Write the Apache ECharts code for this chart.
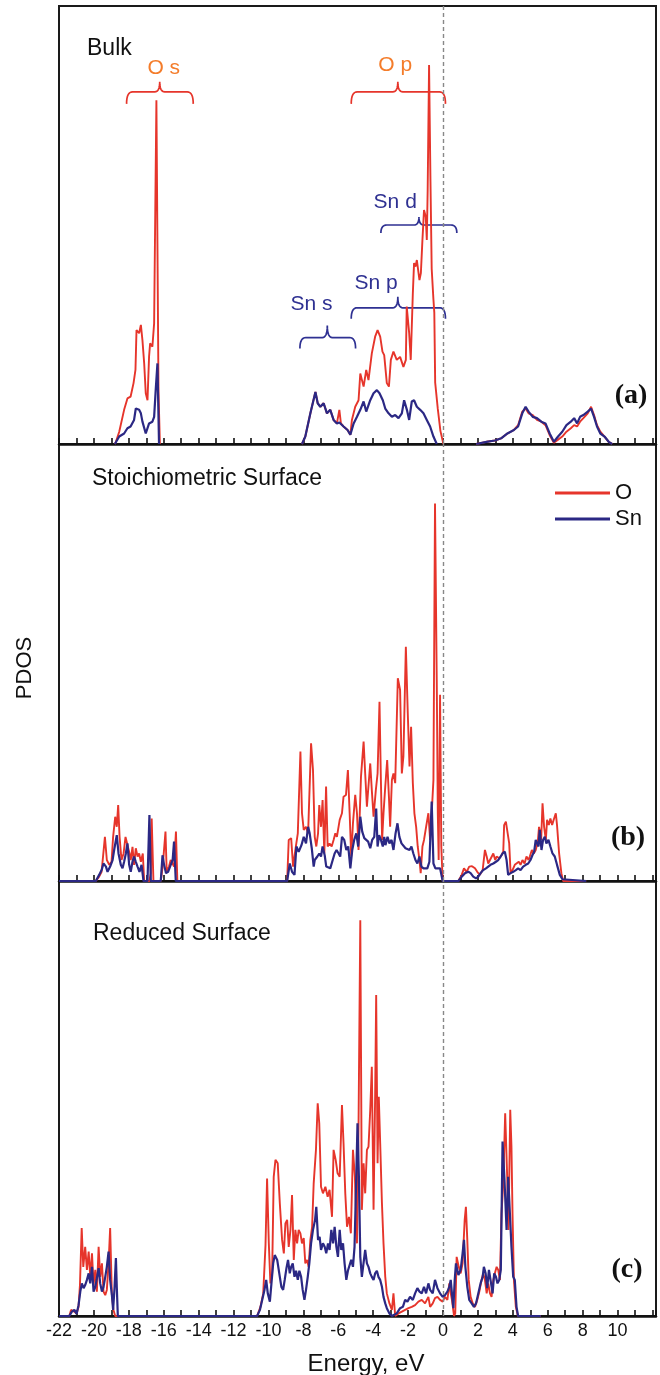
<!DOCTYPE html>
<html>
<head>
<meta charset="utf-8">
<script src="https://cdn.jsdelivr.net/npm/echarts@6.0.0/dist/echarts.min.js"></script>
<style>
html, body { margin: 0; padding: 0; background: #fff; }
#main { width: 660px; height: 1375px; }
</style>
</head>
<body>
<div id="main"></div>
<script>
// x = energy (eV), y = PDOS in arbitrary units (0..100 = full panel height)
const xTickLabels = [-22, -20, -18, -16, -14, -12, -10, -8, -6, -4, -2, 0, 2, 4, 6, 8, 10]
const panelTitles = ['Bulk', 'Stoichiometric Surface', 'Reduced Surface']
const panelTags = ['(a)', '(b)', '(c)']

// (a) bulk
const bulkO = [
  [-18.8, 0], [-18.74, 0.5], [-18.55, 2.8], [-18.27, 7.8], [-18.08, 10.4], [-17.9, 10.8], [-17.73, 13.9],
  [-17.62, 16.9], [-17.56, 26], [-17.41, 25.3], [-17.31, 27.2], [-17.22, 23.7], [-17.12, 18.4], [-17.03, 11.6],
  [-16.93, 10], [-16.84, 20], [-16.78, 23], [-16.65, 22.2], [-16.55, 27.6], [-16.42, 78.5], [-16.3, 12], [-16.22, 0],
  [-12, null],
  [-8.08, 0], [-7.89, 1.7], [-7.6, 7.0], [-7.31, 11.9], [-7.18, 9.3], [-7.03, 8.5], [-6.84, 9.3], [-6.65, 7.0],
  [-6.46, 7.8], [-6.27, 5.5], [-6.08, 4.7], [-5.94, 7.8], [-5.85, 4.7], [-5.7, 4.0], [-5.47, 3.2], [-5.31, 2.1],
  [-5.22, 5.5], [-5.03, 8.5], [-4.84, 10], [-4.74, 16.1], [-4.55, 13.1], [-4.4, 16.9], [-4.27, 14.6], [-4.08, 20.7],
  [-3.89, 24.5], [-3.75, 26], [-3.6, 24.5], [-3.47, 21.1], [-3.37, 20.3], [-3.22, 13.9], [-3.1, 13.1], [-2.99, 19.2],
  [-2.84, 21.1], [-2.65, 19.2], [-2.46, 19.9], [-2.27, 17.6], [-2.13, 19.2], [-2.08, 31.4], [-1.94, 25.3], [-1.85, 19.2],
  [-1.73, 34.4], [-1.66, 41.3], [-1.58, 40.5], [-1.5, 42], [-1.35, 37.4], [-1.27, 39], [-1.18, 46.6], [-1.09, 53.4],
  [-0.99, 51.9], [-0.93, 46.6], [-0.88, 58], [-0.8, 86.5], [-0.72, 60], [-0.65, 40], [-0.55, 33], [-0.5, 30],
  [-0.45, 14], [-0.3, 8], [-0.15, 3], [0.02, 0],
  [1, null],
  [1.9, 0], [2.0, 0.2], [2.49, 0.5], [2.97, 0.8], [3.33, 1.3], [3.69, 2.4], [4.06, 3.2], [4.3, 4.3], [4.54, 7.4],
  [4.73, 8.1], [4.9, 7.0], [5.14, 6.6], [5.38, 5.5], [5.63, 5.1], [5.87, 4.3], [6.11, 2.0], [6.35, 0.3], [6.59, 1.0],
  [6.83, 1.7], [7.07, 2.8], [7.32, 3.6], [7.51, 4.3], [7.68, 4.0], [7.85, 5.1], [8.04, 5.9], [8.29, 7.0], [8.48, 8.5],
  [8.65, 6.6], [8.82, 4.3], [9.01, 2.8], [9.25, 1.7], [9.49, 0.5], [9.69, 0]
]
const bulkSn = [
  [-18.8, 0], [-18.74, 0.3], [-18.55, 1.7], [-18.27, 2.4], [-18.08, 3.6], [-17.9, 4], [-17.7, 5.5], [-17.6, 8.1],
  [-17.41, 7.8], [-17.31, 7], [-17.22, 5.1], [-17.03, 2.4], [-16.93, 2.8], [-16.84, 4.7], [-16.65, 5.1], [-16.55, 6.2],
  [-16.46, 12.3], [-16.36, 18.4], [-16.3, 18.4], [-16.27, 0],
  [-12, null],
  [-8.08, 0], [-7.89, 1.7], [-7.6, 7.0], [-7.31, 11.9], [-7.18, 9.3], [-7.03, 8.5], [-6.84, 9.3], [-6.65, 7.0],
  [-6.46, 7.8], [-6.27, 5.5], [-6.08, 4.7], [-5.94, 4.9], [-5.85, 4.7], [-5.7, 4.0], [-5.47, 3.2], [-5.31, 2.1],
  [-5.12, 4.7], [-4.93, 6.2], [-4.74, 7.8], [-4.55, 9.7], [-4.4, 7.4], [-4.17, 10], [-3.98, 11.6], [-3.79, 12.3],
  [-3.64, 11.6], [-3.45, 10], [-3.31, 8.1], [-3.12, 7.0], [-2.93, 6.2], [-2.74, 6.6], [-2.55, 5.9], [-2.36, 7.0],
  [-2.23, 10], [-2.07, 7.8], [-1.94, 5.5], [-1.79, 9.7], [-1.66, 10], [-1.5, 8.5], [-1.31, 7.8], [-1.12, 7.0],
  [-0.93, 5.5], [-0.74, 4.0], [-0.55, 1.7], [-0.36, 0],
  [1, null],
  [1.9, 0], [2.0, 0.2], [2.49, 0.5], [2.97, 0.8], [3.33, 1.3], [3.69, 2.4], [4.06, 3.2], [4.3, 4], [4.54, 7],
  [4.73, 8.5], [4.9, 7.4], [5.14, 6.2], [5.38, 5.9], [5.63, 5.1], [5.87, 4.7], [6.11, 2.4], [6.35, 0.5], [6.59, 1.7],
  [6.83, 2.8], [7.07, 4.3], [7.32, 5.1], [7.51, 5.9], [7.68, 4.7], [7.85, 6.2], [8.04, 6.6], [8.29, 7.4], [8.48, 8.1],
  [8.65, 6.2], [8.82, 4.0], [9.01, 2.4], [9.25, 1.7], [9.49, 0.5], [9.69, 0]
]

// (b) stoichiometric surface
const stoichO = [
  [-22, 0], [-19.89, 0], [-19.7, 1], [-19.56, 2.1], [-19.37, 10.1], [-19.26, 4.8], [-19.12, 3.7], [-18.99, 4.4],
  [-18.9, 10.1], [-18.78, 14.7], [-18.69, 12.4], [-18.61, 17.4], [-18.53, 10.1], [-18.42, 4.8], [-18.3, 6.3],
  [-18.19, 10.1], [-18.08, 10.5], [-17.96, 6.3], [-17.89, 4.8], [-17.79, 7.8], [-17.7, 3.7], [-17.6, 7.5],
  [-17.5, 5.6], [-17.41, 6.3], [-17.31, 4.4], [-17.2, 6.3], [-17.12, 0], [-16.82, 0], [-16.74, 1.8], [-16.69, 14.3],
  [-16.59, 0], [-16.17, 0], [-16.06, 3.3], [-15.9, 11.3], [-15.83, 2.1], [-15.7, 3.3], [-15.6, 4.8], [-15.41, 3.3],
  [-15.3, 11.3], [-15.22, 0],
  [-8.93, 0], [-8.84, 9.4], [-8.7, 9.8], [-8.59, 3.3], [-8.46, 7.1], [-8.32, 10.9], [-8.17, 29.6], [-8.08, 15.5],
  [-7.98, 11.7], [-7.85, 12.4], [-7.73, 10.9], [-7.56, 31.5], [-7.45, 25.4], [-7.35, 10.1], [-7.26, 7.9], [-7.16, 10.9],
  [-7.09, 17.4], [-6.99, 12.4], [-6.9, 18.5], [-6.8, 6.3], [-6.7, 21.6], [-6.61, 7.9], [-6.5, 8.6], [-6.38, 7.9],
  [-6.27, 9.4], [-6.17, 10.9], [-6.08, 10.1], [-5.92, 14], [-5.79, 15.5], [-5.7, 19.3], [-5.56, 19.7], [-5.45, 25.4],
  [-5.35, 15.5], [-5.26, 5.6], [-5.16, 13.2], [-5.03, 19.7], [-4.93, 15.5], [-4.84, 7.1], [-4.7, 23.9], [-4.55, 31.9],
  [-4.46, 24.6], [-4.36, 17], [-4.29, 20.8], [-4.17, 26.9], [-4.08, 20.8], [-3.98, 14.7], [-3.85, 20.8], [-3.75, 24.6],
  [-3.64, 41], [-3.56, 23.1], [-3.49, 9.4], [-3.41, 15.5], [-3.31, 21.6], [-3.2, 27.7], [-3.1, 19.3], [-3.03, 12.4],
  [-2.93, 23.1], [-2.84, 24.6], [-2.74, 22.4], [-2.59, 46.4], [-2.46, 43.7], [-2.36, 24.6], [-2.27, 28.5],
  [-2.13, 53.6], [-2.02, 38.4], [-1.92, 26.2], [-1.83, 35.3], [-1.73, 22.4], [-1.64, 15.5], [-1.54, 12.4],
  [-1.45, 7.9], [-1.35, 4.8], [-1.28, 1.8], [-1.18, 7.9], [-1.09, 9.4], [-0.97, 12.4], [-0.84, 15.5], [-0.74, 9.4],
  [-0.65, 15.5], [-0.55, 23.1], [-0.46, 86.4], [-0.36, 46], [-0.3, 15.5], [-0.25, 4.8], [-0.17, 42.6], [-0.1, 7.9],
  [-0.02, 0],
  [0.88, 0], [1.07, 1.4], [1.2, 2.9], [1.35, 2.1], [1.5, 3.3], [1.66, 3.4], [1.83, 2.9], [1.96, 2.1], [2.11, 1.4],
  [2.27, 2.5], [2.4, 7.1], [2.5, 5.6], [2.59, 4.0], [2.69, 4.8], [2.8, 5.2], [2.88, 6.3], [2.99, 4.8], [3.07, 5.6],
  [3.22, 5.2], [3.35, 5.9], [3.45, 6.7], [3.5, 12.8], [3.6, 13.6], [3.71, 13.2], [3.79, 8.6], [3.87, 1.8], [3.98, 2.5],
  [4.11, 3.7], [4.21, 3.3], [4.34, 4.4], [4.44, 3.7], [4.55, 4.8], [4.67, 4.0], [4.78, 5.6], [4.9, 4.8], [4.97, 5.6],
  [5.09, 7.1], [5.2, 6.3], [5.31, 7.1], [5.43, 9], [5.5, 12.4], [5.62, 9.4], [5.7, 17.8], [5.79, 12.4], [5.89, 9.4],
  [5.96, 14], [6.06, 12.8], [6.15, 14.3], [6.25, 12.8], [6.34, 14], [6.46, 15.5], [6.53, 12.8], [6.65, 6.3],
  [6.78, 1.8], [6.88, 0], [8.2, 0]
]
const stoichSn = [
  [-22, 0], [-19.89, 0], [-19.7, 1.4], [-19.56, 2.5], [-19.45, 4], [-19.31, 3.3], [-19.22, 2.1], [-19.07, 3.3],
  [-18.93, 4.8], [-18.84, 7.1], [-18.69, 10.5], [-18.59, 6.3], [-18.46, 3.7], [-18.36, 2.9], [-18.27, 4.4],
  [-18.17, 6.3], [-18.08, 8.6], [-17.98, 3.7], [-17.89, 2.1], [-17.79, 4.4], [-17.7, 5.6], [-17.6, 4.4], [-17.5, 3.3],
  [-17.39, 2.1], [-17.27, 3.7], [-17.16, 0], [-16.93, 0], [-16.82, 15.1], [-16.74, 0], [-16.17, 0], [-16.07, 5.9],
  [-15.98, 3.7], [-15.87, 1.8], [-15.75, 2.1], [-15.6, 3.7], [-15.49, 4.8], [-15.41, 9], [-15.31, 0],
  [-8.93, 0], [-8.78, 4.0], [-8.65, 2.1], [-8.51, 1.4], [-8.4, 7.9], [-8.27, 6.7], [-8.11, 8.2], [-7.98, 10.1],
  [-7.85, 8.6], [-7.73, 12.4], [-7.64, 10.9], [-7.52, 7.5], [-7.41, 3.3], [-7.35, 4.8], [-7.2, 5.6], [-7.09, 6.3],
  [-6.99, 5.6], [-6.9, 7.9], [-6.78, 5.9], [-6.69, 3.3], [-6.59, 3.7], [-6.46, 2.9], [-6.32, 4.8], [-6.21, 6.3],
  [-6.1, 7.1], [-5.98, 6.3], [-5.89, 5.6], [-5.79, 10.1], [-5.66, 9.4], [-5.54, 7.1], [-5.43, 7.9], [-5.31, 2.9],
  [-5.2, 7.1], [-5.09, 9.4], [-4.97, 10.9], [-4.86, 7.9], [-4.74, 14.7], [-4.63, 11.3], [-4.51, 9.8], [-4.4, 10.1],
  [-4.29, 9], [-4.17, 7.5], [-4.06, 9.4], [-3.94, 10.1], [-3.83, 16.6], [-3.75, 7.9], [-3.66, 10.5], [-3.56, 9.4],
  [-3.45, 7.9], [-3.37, 10.1], [-3.3, 8.2], [-3.18, 10.1], [-3.07, 8.6], [-2.95, 9.4], [-2.84, 7.1], [-2.72, 10.9],
  [-2.61, 13.2], [-2.5, 10.1], [-2.38, 8.6], [-2.27, 9], [-2.15, 7.5], [-2.04, 7.9], [-1.92, 7.1], [-1.81, 7.9],
  [-1.7, 6.3], [-1.58, 4.8], [-1.47, 4.0], [-1.35, 5.6], [-1.24, 3.3], [-1.12, 2.9], [-1.01, 2.9], [-0.9, 2.9],
  [-0.78, 4.4], [-0.65, 18.2], [-0.55, 4.0], [-0.44, 2.9], [-0.32, 2.9], [-0.17, 2.9], [-0.06, 2.9], [-0.02, 0],
  [0.88, 0], [1.07, 1], [1.26, 1.8], [1.45, 2.1], [1.58, 1.8], [1.73, 1], [1.89, 0.6], [2.02, 1], [2.15, 1.8],
  [2.3, 2.5], [2.46, 2.9], [2.59, 3.3], [2.72, 3.7], [2.88, 4.0], [3.03, 4.4], [3.16, 4.8], [3.3, 5.6], [3.41, 6.3],
  [3.54, 6.7], [3.64, 4.8], [3.73, 1.4], [3.87, 1.8], [4.02, 2.1], [4.17, 2.5], [4.3, 2.9], [4.44, 2.5], [4.59, 3.3],
  [4.74, 3.7], [4.88, 4.0], [5.01, 4.8], [5.12, 5.9], [5.22, 6.7], [5.31, 9.4], [5.39, 9.8], [5.47, 7.9], [5.54, 11.7],
  [5.64, 7.1], [5.73, 9.4], [5.83, 10.1], [5.92, 8.6], [6.04, 9.4], [6.15, 7.9], [6.27, 6.3], [6.4, 5.6], [6.53, 3.7],
  [6.69, 1.4], [6.84, 0.4], [6.91, 0], [8.2, 0]
]

// (c) reduced surface
const reducedO = [
  [-22, 0], [-21.41, 0], [-21.31, 1.4], [-21.22, 1.8], [-21.12, 1.0], [-20.99, 0.6], [-20.88, 2.1], [-20.8, 7.1],
  [-20.7, 20.2], [-20.61, 11.3], [-20.5, 15.9], [-20.4, 10.6], [-20.3, 14.8], [-20.21, 9.0], [-20.11, 14.4],
  [-20.02, 7.1], [-19.92, 10.6], [-19.83, 5.6], [-19.73, 15.9], [-19.64, 9.0], [-19.54, 12.1], [-19.45, 5.6],
  [-19.35, 4.8], [-19.26, 6.0], [-19.16, 12.1], [-19.07, 20.2], [-18.97, 4.8], [-18.88, 1.4], [-18.78, 0],
  [-10.65, 0], [-10.46, 2.1], [-10.3, 5.2], [-10.17, 16.3], [-10.08, 31.6], [-9.98, 16.7], [-9.89, 7.5], [-9.79, 9.8],
  [-9.7, 32], [-9.6, 35.9], [-9.47, 35.1], [-9.35, 25.9], [-9.22, 17.5], [-9.12, 14.4], [-9.03, 21.3], [-8.93, 22.1],
  [-8.84, 15.9], [-8.74, 19.8], [-8.65, 27.8], [-8.55, 12.9], [-8.46, 19.8], [-8.36, 16.7], [-8.27, 19.8], [-8.17, 19],
  [-8.08, 16.7], [-7.98, 17.9], [-7.89, 12.1], [-7.79, 12.9], [-7.7, 11.3], [-7.6, 17.5], [-7.5, 20.5], [-7.41, 30.5],
  [-7.28, 38.2], [-7.18, 48.9], [-7.09, 44.3], [-6.99, 29.7], [-6.88, 28.2], [-6.74, 29.7], [-6.61, 27.4], [-6.5, 29],
  [-6.36, 22.8], [-6.27, 38.2], [-6.15, 35.9], [-6.04, 32.8], [-5.92, 32], [-5.79, 48.5], [-5.7, 39.7], [-5.6, 28.2],
  [-5.5, 20.5], [-5.39, 22.8], [-5.28, 19], [-5.16, 38.2], [-5.05, 32], [-4.93, 16.7], [-4.84, 44.3], [-4.74, 91],
  [-4.65, 24.4], [-4.55, 35.1], [-4.46, 28.2], [-4.36, 38.2], [-4.27, 38.9], [-4.17, 47.4], [-4.08, 57.3],
  [-3.98, 24.4], [-3.89, 50.4], [-3.83, 73.8], [-3.75, 35.1], [-3.68, 50.4], [-3.6, 39.7], [-3.5, 25.9], [-3.41, 16.7],
  [-3.31, 9.0], [-3.22, 5.2], [-3.07, 2.9], [-2.93, 1.4], [-2.84, 5.2], [-2.74, 0], [-2.55, 0.6], [-2.36, 1.0],
  [-2.17, 1.4], [-1.98, 1.8], [-1.79, 2.1], [-1.6, 2.5], [-1.41, 3.3], [-1.22, 3.7], [-1.03, 2.9], [-0.84, 4.4],
  [-0.74, 2.1], [-0.59, 2.9], [-0.46, 4.1], [-0.32, 4.4], [-0.17, 3.7], [-0.02, 3.3], [0.11, 4.4], [0.25, 3.7],
  [0.36, 7.5], [0.44, 5.2], [0.51, 3.7], [0.63, 0], [0.7, 0.6], [0.78, 13.6], [0.9, 11.3], [1.01, 9.8], [1.12, 12.1],
  [1.24, 22.1], [1.31, 25.1], [1.39, 17.5], [1.47, 8.3], [1.58, 4.4], [1.7, 2.9], [1.83, 2.1], [1.96, 3.7], [2.08, 5.6],
  [2.21, 8.3], [2.3, 9.8], [2.4, 8.3], [2.5, 5.2], [2.59, 7.5], [2.69, 5.2], [2.78, 4.4], [2.88, 8.3], [2.97, 9.8],
  [3.07, 11.3], [3.16, 10.6], [3.26, 8.3], [3.35, 23.6], [3.45, 30.5], [3.56, 46.6], [3.68, 31.3], [3.75, 19.8],
  [3.85, 47.4], [3.92, 38.9], [3.98, 23.6], [4.06, 8.3], [4.17, 2.1], [4.29, 0], [5.6, 0]
]
const reducedSn = [
  [-22, 0], [-21.41, 0], [-21.26, 1.0], [-21.12, 1.4], [-20.99, 0.5], [-20.88, 2.5], [-20.78, 5.6], [-20.69, 7.5],
  [-20.59, 6.4], [-20.5, 7.1], [-20.4, 8.3], [-20.3, 9.8], [-20.21, 7.5], [-20.11, 11.3], [-20.02, 5.6], [-19.92, 6.7],
  [-19.83, 8.7], [-19.73, 11], [-19.64, 7.5], [-19.54, 5.6], [-19.45, 6.7], [-19.35, 9.0], [-19.26, 11.3],
  [-19.16, 14.8], [-19.07, 8.3], [-18.97, 4.8], [-18.9, 1.4], [-18.82, 6.4], [-18.74, 13.3], [-18.69, 6.7], [-18.63, 0],
  [-10.65, 0], [-10.49, 1.4], [-10.36, 3.7], [-10.23, 6.0], [-10.13, 8.3], [-10.04, 5.2], [-9.92, 3.3], [-9.83, 7.5],
  [-9.73, 12.1], [-9.64, 14], [-9.5, 12.9], [-9.35, 9.0], [-9.26, 6.7], [-9.16, 6.0], [-9.07, 8.3], [-8.97, 11],
  [-8.88, 12.9], [-8.78, 9.8], [-8.7, 11.3], [-8.61, 12.1], [-8.51, 9.0], [-8.42, 10.4], [-8.32, 8.3], [-8.23, 10.4],
  [-8.13, 9.0], [-8.04, 6.0], [-7.94, 3.7], [-7.85, 6.0], [-7.75, 9.0], [-7.66, 12.1], [-7.56, 16.7], [-7.45, 19.8],
  [-7.33, 22.1], [-7.26, 25.1], [-7.16, 17.5], [-7.07, 18.2], [-6.99, 15.2], [-6.88, 16.7], [-6.78, 15.9],
  [-6.69, 14.4], [-6.59, 16.7], [-6.5, 15.2], [-6.4, 19.8], [-6.3, 16.7], [-6.21, 20.5], [-6.11, 15.9], [-6.02, 13.6],
  [-5.92, 19.8], [-5.83, 15.2], [-5.73, 16.7], [-5.64, 12.1], [-5.54, 8.3], [-5.45, 10.4], [-5.35, 10.4],
  [-5.26, 12.9], [-5.16, 11.3], [-5.07, 15.9], [-4.97, 32], [-4.9, 44.3], [-4.82, 32], [-4.74, 13.6], [-4.65, 9.0],
  [-4.55, 9.0], [-4.46, 15.2], [-4.36, 12.1], [-4.27, 11.3], [-4.17, 9.8], [-4.08, 9.0], [-3.98, 8.3], [-3.89, 9.8],
  [-3.79, 10.4], [-3.7, 9.0], [-3.6, 8.3], [-3.5, 6.7], [-3.41, 4.4], [-3.31, 2.9], [-3.22, 1.8], [-3.07, 0.6],
  [-2.93, 0], [-2.65, 0.6], [-2.46, 1.8], [-2.3, 2.1], [-2.17, 3.7], [-2.04, 3.3], [-1.89, 4.4], [-1.73, 3.7],
  [-1.6, 5.2], [-1.47, 6.4], [-1.35, 5.6], [-1.22, 5.2], [-1.09, 6.7], [-0.97, 5.2], [-0.84, 7.5], [-0.74, 6.0],
  [-0.59, 5.2], [-0.46, 8.3], [-0.32, 6.4], [-0.17, 5.2], [-0.02, 4.4], [0.11, 4.8], [0.25, 5.6], [0.36, 6.7],
  [0.44, 8.3], [0.51, 5.2], [0.59, 1.8], [0.67, 8.3], [0.74, 12.1], [0.88, 9.4], [1.01, 10.6], [1.12, 14.4],
  [1.2, 17.5], [1.28, 11.3], [1.39, 6.7], [1.5, 3.7], [1.64, 2.9], [1.77, 2.1], [1.89, 2.9], [2.02, 5.2], [2.15, 7.5],
  [2.27, 9.0], [2.34, 11.3], [2.44, 9.8], [2.53, 6.4], [2.63, 10.6], [2.72, 8.3], [2.84, 5.2], [2.93, 9.8], [3.03, 9.0],
  [3.12, 7.5], [3.22, 8.3], [3.31, 10.6], [3.41, 40.1], [3.52, 31.3], [3.64, 19.8], [3.73, 32], [3.83, 23.6],
  [3.92, 15.9], [4.02, 9.0], [4.11, 8.3], [4.21, 2.1], [4.3, 0], [5.6, 0]
]

const panelO = [bulkO, stoichO, reducedO]
const panelSn = [bulkSn, stoichSn, reducedSn]

const RED = '#e6352b'
const BLUE = '#2b2884'
const ORANGE = '#f47c2a'
const NAVY = '#2f3192'

// grid layout in px
const gridTops = [6, 444, 881]
const gridHeights = [438, 437, 435]

const chart = echarts.init(document.getElementById('main'))

const grids = [], xAxes = [], yAxes = [], series = []
for (let i = 0; i < 3; i++) {
  grids.push({
    left: 59, width: 597, top: gridTops[i], height: gridHeights[i],
    show: true, borderColor: '#1a1a1a', borderWidth: 2, backgroundColor: 'transparent'
  })
  xAxes.push({
    type: 'value', gridIndex: i, min: -22, max: 12.2, interval: 1,
    splitLine: { show: false },
    axisLine: { show: true, onZero: false, lineStyle: { color: '#111', width: 2.5 } },
    axisTick: { show: true, inside: true, length: 6, lineStyle: { color: '#111', width: 1.6 } },
    axisLabel: {
      show: i === 2, margin: 6, color: '#111', fontSize: 18, fontFamily: 'Liberation Sans',
      formatter: function (v) { return xTickLabels.indexOf(v) >= 0 ? String(v) : '' }
    }
  })
  yAxes.push({
    type: 'value', gridIndex: i, min: 0, max: 100,
    show: false, splitLine: { show: false }
  })
  series.push({
    name: 'O', type: 'line', xAxisIndex: i, yAxisIndex: i, data: panelO[i],
    showSymbol: false, symbol: 'none', connectNulls: false,
    lineStyle: { color: RED, width: 1.9 }, itemStyle: { color: RED }
  })
  series.push({
    name: 'Sn', type: 'line', xAxisIndex: i, yAxisIndex: i, data: panelSn[i],
    showSymbol: false, symbol: 'none', connectNulls: false,
    lineStyle: { color: BLUE, width: 2.2 }, itemStyle: { color: BLUE },
    markLine: {
      silent: true, symbol: 'none', label: { show: false },
      lineStyle: { color: '#888', type: [4, 3], width: 1.4 },
      data: [{ xAxis: 0 }]
    }
  })
}

chart.setOption({
  animation: false,
  backgroundColor: '#fff',
  grid: grids,
  xAxis: xAxes,
  yAxis: yAxes,
  legend: {
    data: ['O', 'Sn'], orient: 'vertical', left: 550, top: 477,
    icon: 'rect', itemWidth: 55, itemHeight: 3, itemGap: 4, selectedMode: false,
    textStyle: { color: '#111', fontSize: 22, fontFamily: 'Liberation Sans' }
  },
  series: series
})

// annotations in panel (a), in data units (eV, PDOS)
const braces = [
  { x0: -18.13, x1: -14.31, tip: -16.23, y: 80.4, d: 12, h: 10, color: RED },
  { x0: -5.26, x1: 0.14, tip: -2.59, y: 80.4, d: 12, h: 10, color: RED },
  { x0: -3.56, x1: 0.79, tip: -1.38, y: 50, d: 8, h: 8, color: NAVY },
  { x0: -5.26, x1: 0.14, tip: -2.59, y: 31.1, d: 11, h: 11, color: NAVY },
  { x0: -8.2, x1: -5.01, tip: -6.63, y: 24.3, d: 11, h: 12, color: NAVY }
]
const braceLabels = [
  { text: 'O s', x: -16.0, y: 85.8, color: ORANGE },
  { text: 'O p', x: -2.74, y: 86.5, color: ORANGE },
  { text: 'Sn d', x: -2.74, y: 55.3, color: NAVY },
  { text: 'Sn p', x: -3.83, y: 36.8, color: NAVY },
  { text: 'Sn s', x: -7.54, y: 32, color: NAVY }
]

function txt(text, x, y, font, color, align, rot) {
  return {
    type: 'text', x: x, y: y, rotation: rot || 0, silent: true,
    style: {
      text: text, font: font, fill: color,
      textAlign: align || 'center', textVerticalAlign: 'middle'
    }
  }
}

// quadratic curve sampled into points
function quad(pts, a, c, b) {
  for (let k = 1; k <= 8; k++) {
    const t = k / 8, u = 1 - t
    pts.push([u * u * a[0] + 2 * u * t * c[0] + t * t * b[0], u * u * a[1] + 2 * u * t * c[1] + t * t * b[1]])
  }
}

const graphics = []
braces.forEach(function (b) {
  const p0 = chart.convertToPixel({ gridIndex: 0 }, [b.x0, b.y])
  const p1 = chart.convertToPixel({ gridIndex: 0 }, [b.x1, b.y])
  const pt = chart.convertToPixel({ gridIndex: 0 }, [b.tip, b.y])
  const y = p0[1], r = 6, r2 = 5
  const x0 = p0[0], x1 = p1[0], xt = pt[0]
  const pts = [[x0, y + b.d]]
  quad(pts, [x0, y + b.d], [x0, y], [x0 + r, y])
  pts.push([xt - r2, y])
  quad(pts, [xt - r2, y], [xt, y], [xt, y - b.h])
  quad(pts, [xt, y - b.h], [xt, y], [xt + r2, y])
  pts.push([x1 - r, y])
  quad(pts, [x1 - r, y], [x1, y], [x1, y + b.d])
  graphics.push({
    type: 'polyline', silent: true,
    shape: { points: pts },
    style: { fill: null, stroke: b.color, lineWidth: 1.7 }
  })
})
braceLabels.forEach(function (l) {
  const p = chart.convertToPixel({ gridIndex: 0 }, [l.x, l.y])
  graphics.push(txt(l.text, p[0], p[1], '21px "Liberation Sans"', l.color))
})

const titlePos = [[87, 49], [92, 479], [93, 934]]
const tagPos = [[631, 396], [628, 838], [627, 1270]]
for (let i = 0; i < 3; i++) {
  graphics.push(txt(panelTitles[i], titlePos[i][0], titlePos[i][1], '23px "Liberation Sans"', '#111', 'left'))
  graphics.push(txt(panelTags[i], tagPos[i][0], tagPos[i][1], 'bold 28px "Liberation Serif"', '#111'))
}
graphics.push(txt('PDOS', 25, 668, '22px "Liberation Sans"', '#111', 'center', Math.PI / 2))
graphics.push(txt('Energy, eV', 366, 1364, '24px "Liberation Sans"', '#111'))

chart.setOption({ graphic: graphics })
</script>
</body>
</html>
